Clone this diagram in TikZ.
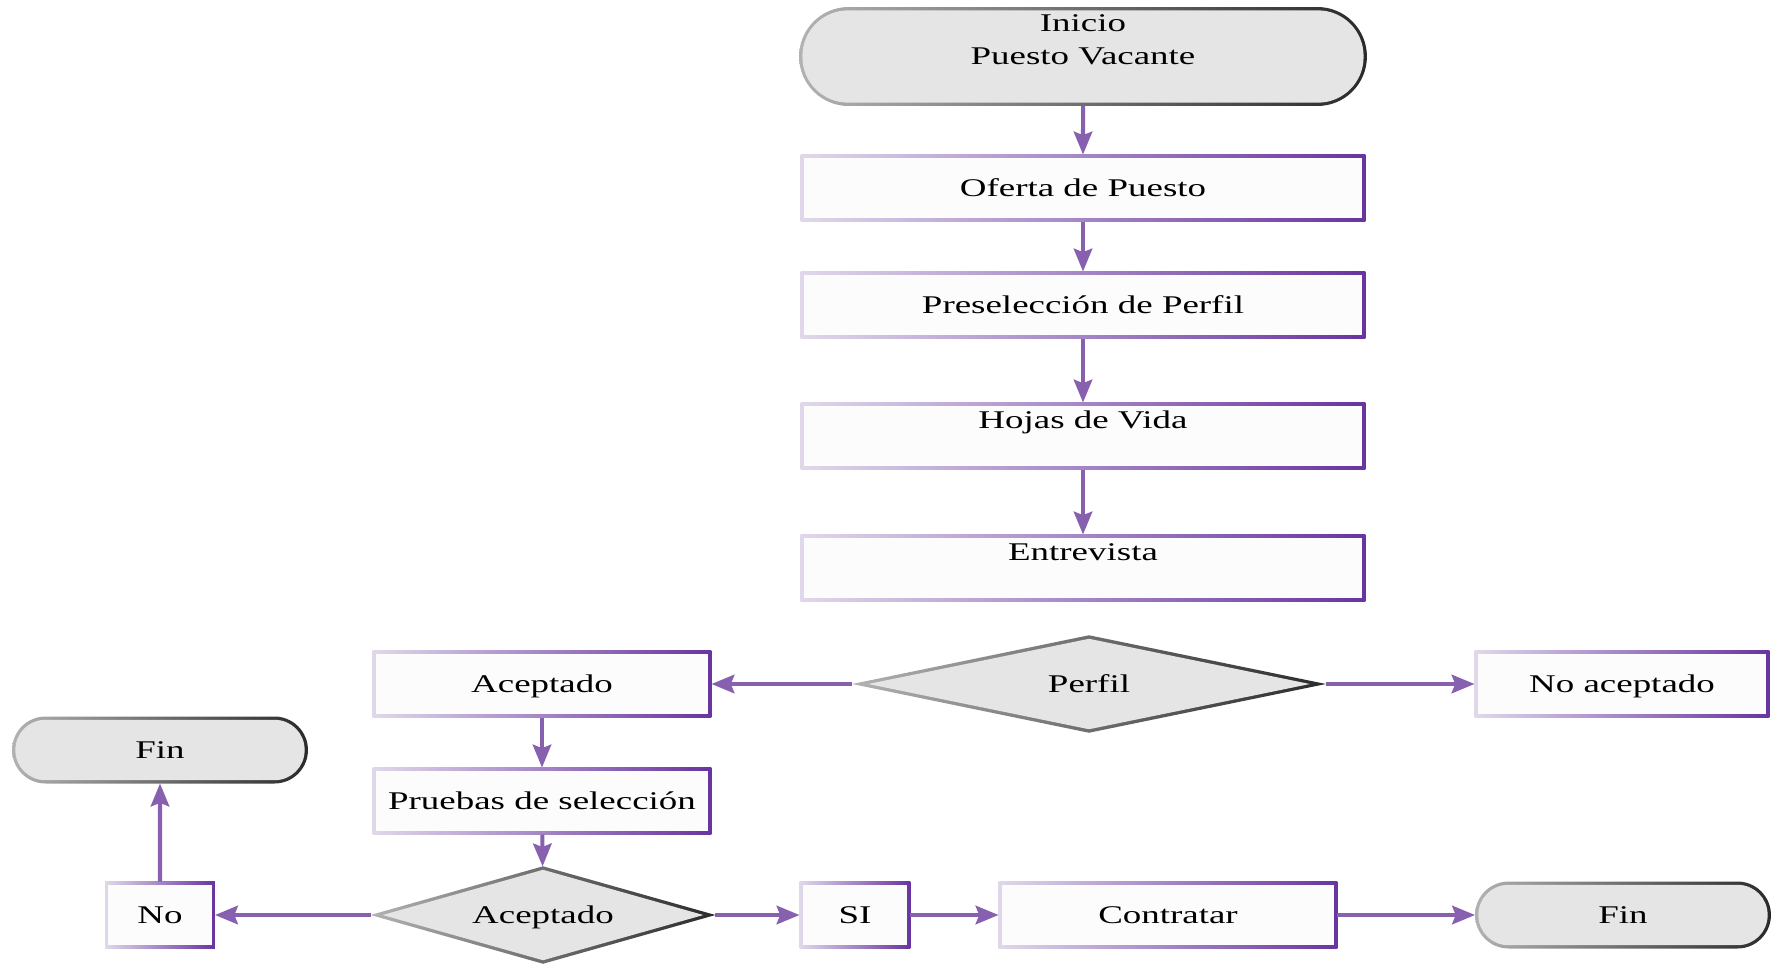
\documentclass[tikz,border=0pt]{standalone}
\usepackage{fontspec}
\setmainfont{Liberation Serif}[FakeStretch=1.45]
\usetikzlibrary{arrows.meta,shapes.geometric,shapes.misc}
\definecolor{flowpurple}{RGB}{135,97,175}
\definecolor{edgelight}{RGB}{224,216,234}
\definecolor{edgedark}{RGB}{104,52,160}
\definecolor{greylight}{RGB}{178,178,178}
\definecolor{greydark}{RGB}{42,42,42}
\definecolor{boxfill}{RGB}{252,252,252}
\definecolor{termfill}{RGB}{229,229,229}
\tikzset{
	proc/.style={
			rectangle, outer sep=0pt, inner sep=2pt, text depth=0pt,
			minimum width=#1, minimum height=1.34cm,
			left color=edgelight, right color=edgedark,
			path picture={
					\fill[boxfill] ([shift={(1.9pt,1.9pt)}]path picture bounding box.south west)
					rectangle ([shift={(-1.9pt,-1.9pt)}]path picture bounding box.north east);}
		},
	term/.style n args={3}{
			rounded rectangle, outer sep=0pt, inner sep=2pt, align=center,
			minimum width=#1, minimum height=#2,
			left color=greylight, right color=greydark,
			path picture={
					\fill[termfill, rounded corners=#3] ([shift={(1.9pt,1.9pt)}]path picture bounding box.south west)
					rectangle ([shift={(-1.9pt,-1.9pt)}]path picture bounding box.north east);}
		},
	decision/.style 2 args={
			diamond, aspect=4, outer sep=0pt, inner sep=0pt, text depth=0pt,
			minimum width=#1, minimum height=1.95cm,
			left color=greylight, right color=greydark,
			path picture={
					\fill[termfill] ([xshift=#2]path picture bounding box.west)
					-- ([yshift=-2pt]path picture bounding box.north)
					-- ([xshift=-#2]path picture bounding box.east)
					-- ([yshift=2pt]path picture bounding box.south) -- cycle;}
		},
	flow/.style={draw=flowpurple, line width=2.3pt, ->}
}

\begin{document}
\begin{tikzpicture}[x=0.02cm, y=-0.02cm, font=\fontsize{14.5}{19}\selectfont,
		>={Stealth[length=13pt,width=10.5pt,inset=2pt]}]
	\useasboundingbox (0,0) rectangle (1772,968);

	% main column
	\node[term={11.5cm}{1.98cm}{26pt}] (start) at (1083,56.5) {Inicio\\Puesto Vacante\\\mbox{}};
	\node[proc=11.3cm] (oferta) at (1083,188) {Oferta de Puesto};
	\node[proc=11.3cm] (presel) at (1083,305) {Preselección de Perfil};
	\node[proc=11.3cm, text depth=0.64cm] (hojas) at (1083,436) {Hojas de Vida};
	\node[proc=11.3cm, text depth=0.64cm] (entrev) at (1083,568) {Entrevista};

	% first decision
	\node[decision={9.48cm}{9.2pt}] (perfil) at (1089,684) {Perfil};
	\node[proc=6.78cm] (acept) at (542,684) {Aceptado};
	\node[proc=5.9cm] (noacept) at (1622,684) {No aceptado};
	\node[proc=6.78cm] (pruebas) at (542,801) {Pruebas de selección};

	% second decision
	\node[decision={6.9cm}{6.9pt}] (acept2) at (543,915) {Aceptado};
	\node[proc=2.2cm] (no) at (160,915) {No};
	\node[term={6.06cm}{1.34cm}{17pt}] (finl) at (160,750) {Fin};
	\node[proc=2.22cm] (si) at (855,915) {SI};
	\node[proc=6.78cm] (contratar) at (1168,915) {Contratar};
	\node[term={6.06cm}{1.34cm}{17pt}] (finr) at (1623,915) {Fin};

	% connectors
	\draw[flow] (start) -- (oferta);
	\draw[flow] (oferta) -- (presel);
	\draw[flow] (presel) -- (hojas);
	\draw[flow] (hojas) -- (entrev);
	\draw[flow] (perfil) -- (acept);
	\draw[flow] (perfil) -- (noacept);
	\draw[flow] (acept) -- (pruebas);
	\draw[flow] (pruebas) -- (acept2);
	\draw[flow] (acept2) -- (no);
	\draw[flow] (no) -- (finl);
	\draw[flow] (acept2) -- (si);
	\draw[flow] (si) -- (contratar);
	\draw[flow] (contratar) -- (finr);
\end{tikzpicture}
\end{document}
